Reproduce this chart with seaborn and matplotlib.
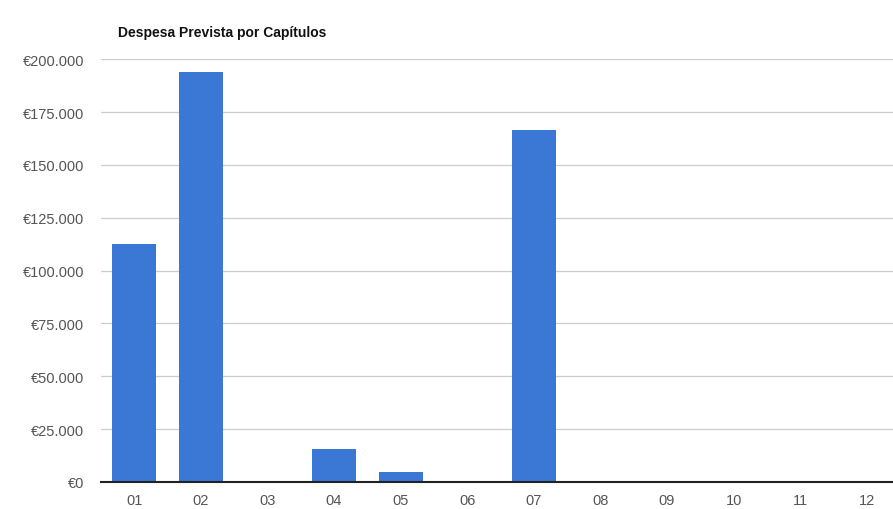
import matplotlib
matplotlib.use("Agg")
import matplotlib.pyplot as plt
import seaborn as sns
import pandas as pd
from matplotlib.ticker import FuncFormatter

categories = ["01", "02", "03", "04", "05", "06", "07", "08", "09", "10", "11", "12"]
values = [112500, 194000, 0, 15800, 4800, 500, 166500, 0, 0, 0, 0, 0]
y_ticks = [0, 25000, 50000, 75000, 100000, 125000, 150000, 175000, 200000]

df = pd.DataFrame({"cap": categories, "val": values})

sns.set_theme(style="white")
plt.rcParams['font.family'] = ['Liberation Sans', 'DejaVu Sans']

fig = plt.figure(figsize=(8.93, 5.10), dpi=100)
ax = fig.add_axes([0.113, 0.053, 0.895, 0.829])

sns.barplot(data=df, x="cap", y="val", color="#3b78d6", width=0.66,
            saturation=1, linewidth=0, edgecolor="none", ax=ax, zorder=3)

ax.set_ylim(0, 200000)
ax.set_yticks(y_ticks)
ax.yaxis.set_major_formatter(FuncFormatter(lambda v, p: "€" + f"{int(v):,}".replace(",", ".")))
ax.grid(axis="y", color="#cccccc", linewidth=0.9, zorder=0)
ax.set_axisbelow(True)
for s in ["top", "right", "left"]:
    ax.spines[s].set_visible(False)
ax.spines["bottom"].set_color("#222222")
ax.spines["bottom"].set_linewidth(1.5)
ax.spines["bottom"].set_zorder(4)
ax.set_xlabel("")
ax.set_ylabel("")
ax.tick_params(axis="y", length=0, labelsize=10.5, labelcolor="#555555", pad=12)
ax.tick_params(axis="x", length=0, labelsize=10.5, labelcolor="#555555", pad=8)

fig.text(0.132, 0.935, "Despesa Prevista por Capítulos", fontsize=10, fontweight="bold",
         color="#111111", ha="left", va="center")

fig.savefig("out.png", dpi=100, facecolor="white")
